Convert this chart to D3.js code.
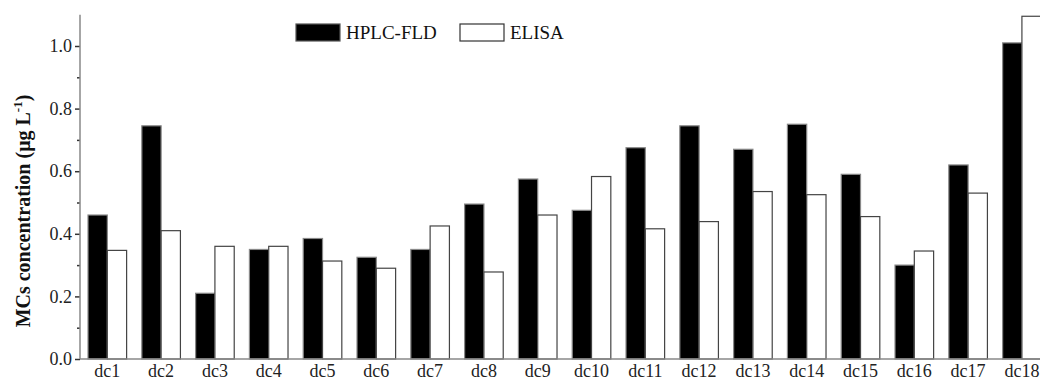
<!DOCTYPE html>
<html><head><meta charset="utf-8">
<script src="https://cdn.jsdelivr.net/npm/d3@7"></script>
<style>
body{margin:0;background:#fff;}
svg{display:block;}
text{font-family:"Liberation Serif","Times New Roman",serif;}
</style></head>
<body>
<script>
const categories = ["dc1","dc2","dc3","dc4","dc5","dc6","dc7","dc8","dc9","dc10","dc11","dc12","dc13","dc14","dc15","dc16","dc17","dc18"];
const hplcValues  = [0.46,0.745,0.21,0.35,0.385,0.325,0.35,0.495,0.575,0.475,0.675,0.745,0.67,0.75,0.59,0.30,0.62,1.01];
const elisaValues = [0.347,0.41,0.36,0.36,0.313,0.29,0.425,0.278,0.46,0.583,0.416,0.439,0.535,0.525,0.455,0.345,0.53,1.095];
const seriesNames = ["HPLC-FLD","ELISA"];
const yTickValues = [0,0.2,0.4,0.6,0.8,1.0];
const yMinorValues = [0.1,0.3,0.5,0.7,0.9];

const W=1040,H=381;
const x0=80, yBase=359, yTop=14.7;
const svg=d3.select("body").append("svg").attr("width",W).attr("height",H);

const y=d3.scaleLinear().domain([0,1.1]).range([yBase,yTop]);
const step=53.8, pIn=0.2825, pOut=0.149;
const x=d3.scaleBand().domain(categories).range([x0, x0+step*(categories.length-pIn+2*pOut)]).paddingInner(pIn).paddingOuter(pOut);
const xs=d3.scaleBand().domain(seriesNames).range([0,x.bandwidth()]);

const data=categories.map((c,i)=>({c, vals:[hplcValues[i],elisaValues[i]]}));
const g=svg.append("g");
const grp=g.selectAll("g.grp").data(data).join("g").attr("transform",d=>`translate(${x(d.c)},0)`);
grp.selectAll("rect").data(d=>d.vals.map((v,j)=>({v,s:seriesNames[j],j}))).join("rect")
  .attr("x",d=>xs(d.s)).attr("width",xs.bandwidth())
  .attr("y",d=>y(d.v)).attr("height",d=>yBase-y(d.v))
  .attr("fill",d=>d.j===0?"#000":"#fff")
  .attr("stroke",d=>d.j===0?"#888":"#444").attr("stroke-width",1.2);

// y axis
const yAxis=d3.axisLeft(y).tickValues(yTickValues).tickFormat(d3.format(".1f")).tickSize(5).tickPadding(3);
const ya=svg.append("g").attr("transform",`translate(${x0},0)`).call(yAxis);
ya.select(".domain").remove();
ya.selectAll(".tick line").attr("stroke","#333").attr("stroke-width",1.5);
ya.selectAll(".tick text").attr("font-size",18).attr("font-family","Liberation Serif").attr("fill","#222");
const yMinor=d3.axisLeft(y).tickValues(yMinorValues).tickSize(3).tickFormat("");
const ym=svg.append("g").attr("transform",`translate(${x0},0)`).call(yMinor);
ym.select(".domain").remove();
ym.selectAll(".tick line").attr("stroke","#333").attr("stroke-width",1.5);
svg.append("line").attr("x1",x0).attr("x2",x0).attr("y1",yTop).attr("y2",yBase).attr("stroke","#888").attr("stroke-width",1.5);
svg.append("line").attr("x1",x0).attr("x2",W).attr("y1",yBase).attr("y2",yBase).attr("stroke","#888").attr("stroke-width",1.5);

// x axis labels
const xAxis=d3.axisBottom(x).tickSize(0).tickPadding(5);
const xa=svg.append("g").attr("transform",`translate(0,${yBase})`).call(xAxis);
xa.select(".domain").remove();
xa.selectAll(".tick text").attr("font-size",18).attr("font-family","Liberation Serif").attr("fill","#222");

// y title
const yt=svg.append("text").attr("transform","translate(30,211) rotate(-90)").attr("text-anchor","middle")
  .attr("font-size",20).attr("font-weight","bold").attr("fill","#111");
yt.append("tspan").text("MCs concentration (μg L");
yt.append("tspan").text("-1").attr("font-size",13).attr("dy",-8);
yt.append("tspan").text(")").attr("dy",8);

// legend
const legend=[{n:seriesNames[0],x:296,fill:"#000",stroke:"#555"},{n:seriesNames[1],x:460,fill:"#fff",stroke:"#333"}];
const lg=svg.append("g");
legend.forEach(l=>{
  lg.append("rect").attr("x",l.x).attr("y",24).attr("width",44).attr("height",17).attr("fill",l.fill).attr("stroke",l.stroke).attr("stroke-width",1.2);
  lg.append("text").attr("x",l.x+50).attr("y",39).attr("font-size",19).attr("fill","#111").text(l.n);
});
</script>
</body></html>
